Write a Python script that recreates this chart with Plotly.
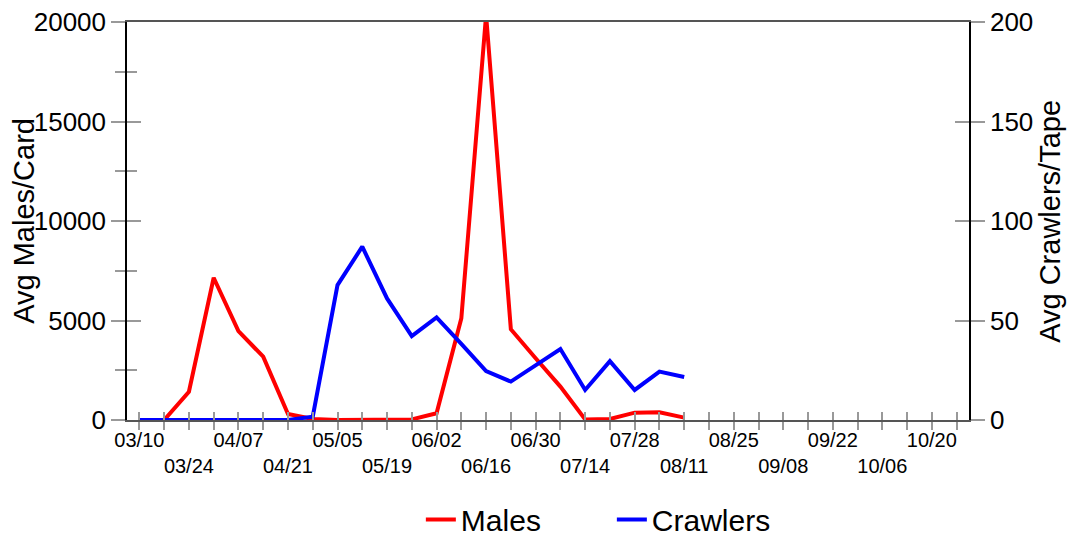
import plotly.graph_objects as go

weeks = ["03/10", "03/17", "03/24", "03/31", "04/07", "04/14", "04/21", "04/28",
         "05/05", "05/12", "05/19", "05/26", "06/02", "06/09", "06/16", "06/23",
         "06/30", "07/07", "07/14", "07/21", "07/28", "08/04", "08/11", "08/18",
         "08/25", "09/01", "09/08", "09/15", "09/22", "09/29", "10/06", "10/13",
         "10/20", "10/27"]

sample_dates = weeks[:23]
males = [0, 0, 1420, 7150, 4470, 3180, 300, 50, 0, 20, 30, 30, 340, 5110,
         20350, 4560, 3100, 1680, 30, 50, 370, 385, 120]
crawlers = [0, 0, 0, 0, 0, 0, 0, 1.7, 67.8, 87.1, 61.1, 42.2, 51.6, 38.2,
            24.6, 19.3, 27.6, 35.7, 15.1, 29.6, 15.1, 24.3, 21.6]

left_ticks = [0, 5000, 10000, 15000, 20000]
right_ticks = [0, 50, 100, 150, 200]
left_title = "Avg Males/Card"
right_title = "Avg Crawlers/Tape"

# alternating two-row labels every 2 weeks
label_vals = []
label_text = []
for i, w in enumerate(weeks):
    label_vals.append(w)
    if i % 4 == 0:
        label_text.append(w)
    elif i % 4 == 2:
        label_text.append("<br>" + w)
    else:
        label_text.append("")

FONT = "Liberation Sans, Arial, sans-serif"
TICKC = "#999999"

fig = go.Figure()
fig.add_trace(go.Scatter(x=sample_dates, y=males, name="Males", mode="lines",
                         line=dict(color="#ff0000", width=4), yaxis="y"))
fig.add_trace(go.Scatter(x=sample_dates, y=crawlers, name="Crawlers", mode="lines",
                         line=dict(color="#0000ff", width=4), yaxis="y2"))
# helper traces so overlay tick axes are drawn
fig.add_trace(go.Scatter(x=[weeks[0]], y=[0], xaxis="x3", yaxis="y3", mode="none",
                         showlegend=False, hoverinfo="skip"))
fig.add_trace(go.Scatter(x=[weeks[0]], y=[0], xaxis="x", yaxis="y4", mode="none",
                         showlegend=False, hoverinfo="skip"))

xcommon = dict(type="category", categoryorder="array", categoryarray=weeks,
               range=[-0.5, len(weeks) - 0.5], showgrid=False, zeroline=False,
               tickvals=label_vals, tickcolor=TICKC, tickwidth=1.5, ticklen=8,
               automargin=False, tickangle=0)

fig.update_layout(
    width=1069, height=535,
    margin=dict(l=127, r=100, t=22, b=115, autoexpand=False),
    paper_bgcolor="white", plot_bgcolor="white",
    font=dict(family=FONT, color="black"),
    showlegend=True,
    legend=dict(orientation="h", x=0.349, xanchor="left", y=-0.25, yanchor="middle",
                font=dict(size=30, family=FONT), entrywidth=146,
                entrywidthmode="pixels", tracegroupgap=0),
    xaxis=dict(**xcommon, ticktext=label_text, ticks="outside",
               showline=True, linecolor="#555555", linewidth=1.5, mirror=True,
               ticklabelstandoff=-7,
               tickfont=dict(size=20, family=FONT)),
    xaxis3=dict(**xcommon, overlaying="x", ticks="inside", showticklabels=False,
                showline=False, anchor="y3"),
    yaxis=dict(range=[0, 20000], tickvals=left_ticks,
               ticktext=[str(v) for v in left_ticks],
               ticks="outside", ticklen=14, tickcolor=TICKC, tickwidth=1.5,
               minor=dict(dtick=2500, tick0=0, ticks="outside", ticklen=10,
                          tickcolor=TICKC, tickwidth=1.5),
               showline=True, linecolor="black", linewidth=1.5,
               showgrid=False, zeroline=False, automargin=False,
               tickfont=dict(size=26, family=FONT)),
    yaxis3=dict(range=[0, 20000], overlaying="y", side="left", anchor="x3",
                tickvals=left_ticks,
                ticks="inside", ticklen=14, tickcolor=TICKC, tickwidth=1.5,
                minor=dict(dtick=2500, tick0=0, ticks="inside", ticklen=10,
                           tickcolor=TICKC, tickwidth=1.5),
                showticklabels=False, showline=False, showgrid=False,
                zeroline=False, automargin=False),
    yaxis2=dict(range=[0, 200], tickvals=right_ticks,
                ticktext=[str(v) for v in right_ticks], overlaying="y",
                side="right", anchor="x",
                ticks="outside", ticklen=14, tickcolor=TICKC, tickwidth=1.5,
                showline=True, linecolor="black", linewidth=1.5,
                showgrid=False, zeroline=False, automargin=False,
                tickfont=dict(size=26, family=FONT)),
    yaxis4=dict(range=[0, 200], tickvals=right_ticks, overlaying="y",
                side="right", anchor="x",
                ticks="inside", ticklen=14, tickcolor=TICKC, tickwidth=1.5,
                showticklabels=False, showline=False, showgrid=False,
                zeroline=False, automargin=False),
)

fig.add_annotation(text=left_title, textangle=-90, xref="paper", yref="paper",
                   x=-0.1225, y=0.5, xanchor="center", yanchor="middle",
                   showarrow=False, font=dict(size=29, family=FONT))
fig.add_annotation(text=right_title, textangle=-90, xref="paper", yref="paper",
                   x=1.096, y=0.5, xanchor="center", yanchor="middle",
                   showarrow=False, font=dict(size=29, family=FONT))

fig.write_html("out.html", config={"displayModeBar": False},
               post_script="document.body.style.margin='0';"
                           "document.body.style.overflow='hidden';")
